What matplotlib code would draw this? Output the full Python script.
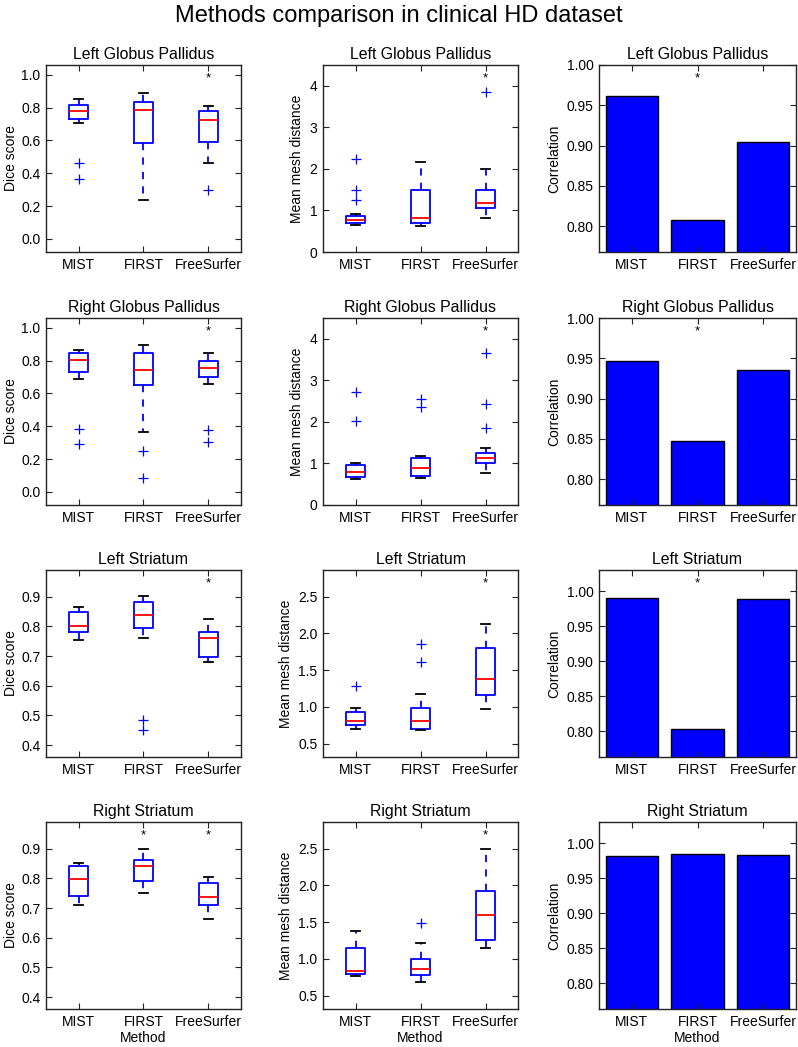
import matplotlib
matplotlib.use("Agg")
import matplotlib.pyplot as plt
import matplotlib.transforms as mtransforms

plt.rcParams['font.family'] = ['Liberation Sans', 'DejaVu Sans']

# ---------------- data ----------------
structures = ["Left Globus Pallidus", "Right Globus Pallidus", "Left Striatum", "Right Striatum"]
methods = ["MIST", "FIRST", "FreeSurfer"]

# Dice score box statistics (per structure, per method)
dice_whislo = [[0.706, 0.239, 0.461], [0.686, 0.364, 0.658], [0.753, 0.760, 0.681], [0.711, 0.751, 0.662]]
dice_q1     = [[0.729, 0.586, 0.588], [0.730, 0.652, 0.698], [0.780, 0.794, 0.698], [0.742, 0.792, 0.710]]
dice_med    = [[0.782, 0.788, 0.723], [0.806, 0.740, 0.754], [0.803, 0.838, 0.760], [0.799, 0.841, 0.737]]
dice_q3     = [[0.818, 0.837, 0.782], [0.844, 0.848, 0.800], [0.849, 0.881, 0.782], [0.842, 0.862, 0.783]]
dice_whishi = [[0.851, 0.888, 0.812], [0.864, 0.894, 0.844], [0.864, 0.903, 0.826], [0.853, 0.900, 0.805]]
dice_fliers = [[[0.465, 0.362], [], [0.296]],
               [[0.382, 0.292], [0.252, 0.082], [0.376, 0.306]],
               [[], [0.483, 0.452], []],
               [[], [], []]]
dice_sig = [[0, 0, 1], [0, 0, 1], [0, 0, 1], [0, 1, 1]]

# Mean mesh distance box statistics
mesh_whislo = [[0.64, 0.63, 0.83], [0.63, 0.64, 0.77], [0.70, 0.69, 0.97], [0.77, 0.69, 1.15]]
mesh_q1     = [[0.69, 0.70, 1.06], [0.68, 0.70, 1.00], [0.76, 0.70, 1.16], [0.79, 0.78, 1.26]]
mesh_med    = [[0.77, 0.81, 1.18], [0.80, 0.89, 1.14], [0.81, 0.81, 1.38], [0.84, 0.86, 1.60]]
mesh_q3     = [[0.86, 1.49, 1.50], [0.97, 1.12, 1.25], [0.93, 0.98, 1.80], [1.15, 1.00, 1.92]]
mesh_whishi = [[0.91, 2.16, 1.99], [1.02, 1.19, 1.38], [0.98, 1.17, 2.13], [1.38, 1.22, 2.50]]
mesh_fliers = [[[2.25, 1.50, 1.25], [], [3.85]],
               [[2.71, 2.02], [2.55, 2.36], [3.65, 2.42, 1.85]],
               [[1.29], [1.85, 1.61], []],
               [[], [1.49], []]]
mesh_sig = [[0, 0, 1], [0, 0, 1], [0, 0, 1], [0, 0, 1]]

# Correlation (volume) bars
corr = [[0.962, 0.808, 0.905], [0.947, 0.847, 0.936], [0.990, 0.803, 0.988], [0.981, 0.985, 0.983]]
corr_sig = [[0, 1, 0], [0, 1, 0], [0, 1, 0], [0, 0, 0]]

dice_ylims = [(-0.08, 1.06), (-0.08, 1.06), (0.36, 0.99), (0.36, 0.99)]
dice_ticks = [[0.0, 0.2, 0.4, 0.6, 0.8, 1.0]] * 2 + [[0.4, 0.5, 0.6, 0.7, 0.8, 0.9]] * 2
mesh_ylims = [(0, 4.5), (0, 4.5), (0.32, 2.86), (0.32, 2.86)]
mesh_ticks = [[0, 1, 2, 3, 4]] * 2 + [[0.5, 1.0, 1.5, 2.0, 2.5]] * 2
corr_ylims = [(0.768, 1.0), (0.768, 1.0), (0.763, 1.03), (0.763, 1.03)]
corr_ticks = [[0.80, 0.85, 0.90, 0.95, 1.00]] * 4

# ---------------- figure ----------------
W, H = 798, 1047
fig = plt.figure(figsize=(W / 100, H / 100), dpi=100)
fig.text(0.5, 1 - 16 / H, "Methods comparison in clinical HD dataset",
         ha='center', va='center', fontsize=17)

col_left = [46, 323, 599]
col_w = [195, 195, 197]
row_top = [65, 318, 570, 822]
ax_h = 187

TICK_FS = 10
LAB_FS = 10
TITLE_FS = 11.4


def style_axes(ax):
    for s in ax.spines.values():
        s.set_color('#222222')
        s.set_linewidth(1.0)
    ax.tick_params(direction='in', top=True, right=True, length=4, width=0.8,
                   labelsize=TICK_FS, color='#222222')
    ax.tick_params(axis='x', pad=4)
    ax.tick_params(axis='y', pad=4)


def add_stars(ax, sig):
    trans = mtransforms.blended_transform_factory(ax.transData, ax.transAxes)
    for i, s in enumerate(sig):
        if s:
            ax.text(i + 1, 0.91, '*', transform=trans, ha='center', va='baseline',
                    fontsize=9.5, color='black')


def boxpanel(ax, r, whislo, q1, med, q3, whishi, fliers):
    stats = []
    for m in range(3):
        stats.append(dict(whislo=whislo[r][m], q1=q1[r][m], med=med[r][m], q3=q3[r][m],
                          whishi=whishi[r][m], fliers=fliers[r][m], label=methods[m]))
    ax.bxp(stats, positions=[1, 2, 3], widths=0.3, showfliers=True,
           boxprops=dict(color='blue', linewidth=1.3),
           whiskerprops=dict(color='blue', linestyle=(0, (4, 4)), linewidth=1.3),
           capprops=dict(color='black', linewidth=1.3),
           medianprops=dict(color='red', linewidth=1.3),
           flierprops=dict(marker='+', markeredgecolor='blue', markerfacecolor='blue',
                           markersize=7, markeredgewidth=0.9, linestyle='none'))
    ax.set_xlim(0.5, 3.5)
    ax.set_xticks([1, 2, 3])
    ax.set_xticklabels(methods)


for r in range(4):
    axes = []
    for c in range(3):
        left = col_left[c] / W
        bottom = (H - row_top[r] - ax_h) / H
        ax = fig.add_axes([left, bottom, col_w[c] / W, ax_h / H])
        axes.append(ax)

    # Dice
    ax = axes[0]
    boxpanel(ax, r, dice_whislo, dice_q1, dice_med, dice_q3, dice_whishi, dice_fliers)
    ax.set_ylim(*dice_ylims[r])
    ax.set_yticks(dice_ticks[r])
    ax.set_ylabel("Dice score", fontsize=LAB_FS, labelpad=2)
    add_stars(ax, dice_sig[r])

    # Mesh distance
    ax = axes[1]
    boxpanel(ax, r, mesh_whislo, mesh_q1, mesh_med, mesh_q3, mesh_whishi, mesh_fliers)
    ax.set_ylim(*mesh_ylims[r])
    ax.set_yticks(mesh_ticks[r])
    ax.set_ylabel("Mean mesh distance", fontsize=LAB_FS, labelpad=4)
    add_stars(ax, mesh_sig[r])

    # Correlation bars
    ax = axes[2]
    ax.bar([1, 2, 3], corr[r], width=0.8, color='blue', edgecolor='black', linewidth=1.0)
    ax.set_xlim(0.5, 3.5)
    ax.set_xticks([1, 2, 3])
    ax.set_xticklabels(methods)
    ax.set_ylim(*corr_ylims[r])
    ax.set_yticks(corr_ticks[r])
    ax.set_yticklabels([f"{v:.2f}" for v in corr_ticks[r]])
    ax.set_ylabel("Correlation", fontsize=LAB_FS, labelpad=4)
    add_stars(ax, corr_sig[r])

    for ax in axes:
        style_axes(ax)
        ax.set_title(structures[r], fontsize=TITLE_FS, pad=4)
        if r == 3:
            ax.set_xlabel("Method", fontsize=LAB_FS, labelpad=2)

fig.savefig("out.png", dpi=100)
